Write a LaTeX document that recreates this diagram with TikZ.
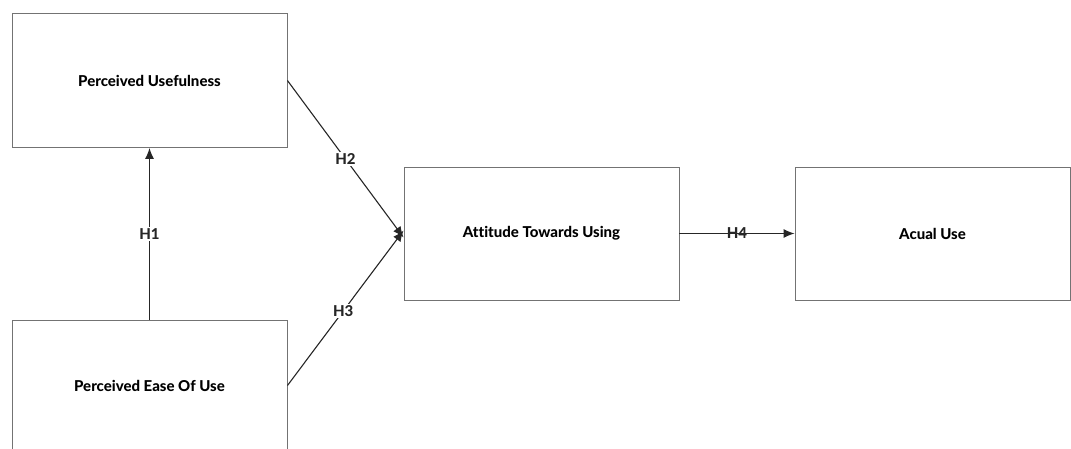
\documentclass[tikz,border=0pt]{standalone}
\usepackage{fontspec}
\setmainfont{Lato}[BoldFont={Lato Heavy}, Ligatures=NoCommon]
\usetikzlibrary{positioning,arrows.meta}
\tikzset{
    construct/.style={draw=gray!90!black, line width=0.9pt, minimum width=275pt, minimum height=134pt, inner sep=0pt, font=\bfseries\fontsize{15}{18}\selectfont},
    path link/.style={-{Latex[length=11pt,width=9pt]}, line width=1.1pt, black!85},
    hyp/.style={fill=white, inner sep=1.5pt, font=\bfseries\fontsize{15}{18}\selectfont},
}
\begin{document}
\begin{tikzpicture}[x=1pt,y=-1pt]
        \useasboundingbox (0,0) rectangle (1071,448);
        \clip (0,0) rectangle (1071,448);
        % constructs
        \node[construct] (PU) at (149.5,80.5) {Perceived Usefulness};
        \node[construct, minimum height=130pt] (PEOU) at (149.5,385.5) {Perceived Ease Of Use};
        \node[construct, minimum height=133pt] (ATU) at (541.5,233.5) {Attitude Towards Using};
        \node[construct, minimum height=133pt] (AU) at (932.5,233.5) {Acual Use};
        % hypotheses
        \draw[path link] (PEOU) -- node[hyp]{H1} (PU);
        \draw[path link] (PU.east) -- node[hyp, pos=0.5]{H2} ([yshift=-4pt]ATU.west);
        \draw[path link] (PEOU.east) -- node[hyp, pos=0.48]{H3} ([yshift=3pt]ATU.west);
        \draw[path link] (ATU) -- node[font=\bfseries\fontsize{15}{18}\selectfont]{H4} (AU);
    \end{tikzpicture}
\end{document}
